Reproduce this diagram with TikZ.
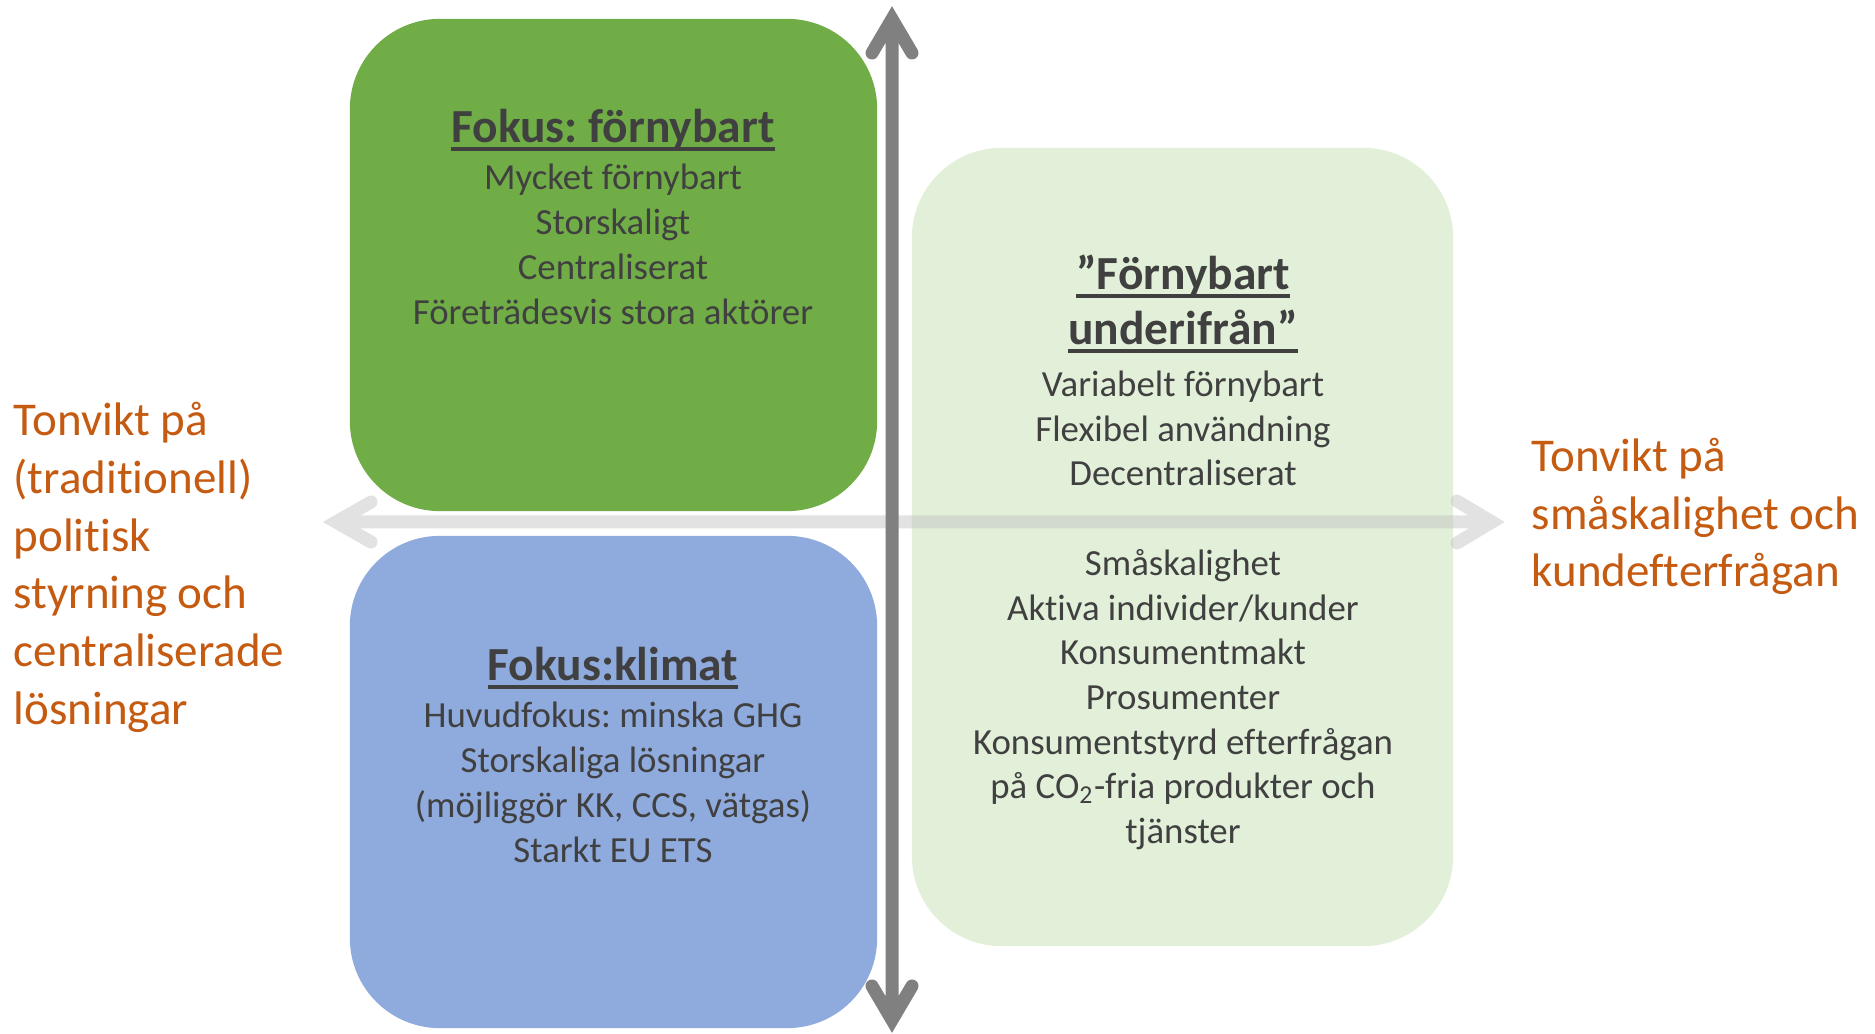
\documentclass[tikz,border=0pt]{standalone}
\usepackage{fontspec}
\setmainfont[Ligatures={NoCommon}]{Carlito}
\usetikzlibrary{calc}
\definecolor{gbox}{HTML}{70AD47}
\definecolor{bbox}{HTML}{8FAADC}
\definecolor{lbox}{HTML}{E2F0D9}
\definecolor{txt}{HTML}{404040}
\definecolor{org}{HTML}{C55A11}
\definecolor{vgray}{HTML}{808080}
\definecolor{hgray}{HTML}{BFBFBF}
\newlength\ulwd
\newcommand\ulttl[1]{\settowidth\ulwd{#1}\rlap{#1}\rule[-0.17em]{\ulwd}{0.065em}}
\frenchspacing
\begin{document}
\begin{tikzpicture}[x=0.01cm,y=-0.01cm,
  box/.style={rectangle, rounded corners=0.9cm, inner sep=0pt, draw=none},
  body/.style={anchor=base, inner sep=0pt, text=txt, font=\fontsize{10.47}{12.7}\selectfont},
  ttl/.style={anchor=base, inner sep=0pt, text=txt, font=\fontsize{13.5}{16}\selectfont\bfseries},
  side/.style={anchor=base west, inner sep=0pt, text=org, font=\fontsize{13.37}{16.4}\selectfont},
  vax/.style={draw=vgray, line width=0.13cm, line cap=round, line join=miter},
  hax/.style={draw=hgray, draw opacity=0.45, line width=0.13cm, line cap=round, line join=miter}]
\useasboundingbox (0,0) rectangle (1875,1034);
% boxes
\node[box, fill=gbox, minimum width=5.27cm, minimum height=4.92cm] (green) at (613.5,265) {};
\node[box, fill=bbox, minimum width=5.27cm, minimum height=4.92cm] (blue) at (613.5,782) {};
\node[box, fill=lbox, minimum width=5.41cm, minimum height=7.98cm] (light) at (1182.5,547) {};
% horizontal axis
\coordinate (hl) at (336,522);
\coordinate (hr) at (1492,522);
\draw[hax] ($(hl)+(35,-20)$) -- (hl) -- ($(hl)+(35,20)$)
           ($(hl)+(6,0)$) -- ($(hr)+(-6,0)$)
           ($(hr)+(-35,-21)$) -- (hr) -- ($(hr)+(-35,21)$);
% vertical axis
\coordinate (vt) at (892,19);
\coordinate (vb) at (892,1020);
\draw[vax] ($(vt)+(-20,34)$) -- (vt) -- ($(vt)+(20,34)$)
           ($(vt)+(0,6)$) -- ($(vb)+(0,-6)$)
           ($(vb)+(-20,-34)$) -- (vb) -- ($(vb)+(20,-34)$);
% green box text
\node[ttl] (gT) at (613,142.5) {\ulttl{Fokus: förnybart}};
\foreach \t/\y [count=\i] in {{Mycket förnybart}/189.5, Storskaligt/234.5, Centraliserat/279.5, {Företrädesvis stora aktörer}/324.5}
  \node[body] (g\i) at (613,\y) {\t};
% blue box text
\node[ttl] (bT) at (613,680.5) {\ulttl{Fokus:klimat}};
\foreach \t/\y [count=\i] in {{Huvudfokus: minska GHG}/727.5, {Storskaliga lösningar}/772.5, {(möjliggör KK, CCS, vätgas)}/817.5, {Starkt EU ETS}/862.5}
  \node[body] (b\i) at (613,\y) {\t};
% light green box text
\node[ttl] (lT1) at (1183,289.5) {\ulttl{”Förnybart}};
\node[ttl] (lT2) at (1183,344.5) {\ulttl{underifrån”}};
\foreach \t/\y [count=\i] in {{Variabelt förnybart}/396.5, {Flexibel användning}/441.5, Decentraliserat/485.5, Småskalighet/575.5, {Aktiva individer/kunder}/620.5, Konsumentmakt/664.5, Prosumenter/709.5, {Konsumentstyrd efterfrågan}/754.5, {på CO\textsubscript{2}-fria produkter och}/798.5, tjänster/843.5}
  \node[body] (l\i) at (1183,\y) {\t};
% side labels
\foreach \t/\y [count=\i] in {{Tonvikt på}/435.5, (traditionell)/493.5, politisk/551.5, {styrning och}/608.5, centraliserade/666.5, lösningar/724.5}
  \node[side] (L\i) at (13,\y) {\t};
\foreach \t/\y [count=\i] in {{Tonvikt på}/471.5, {småskalighet och}/529.5, kundefterfrågan/586.5}
  \node[side] (R\i) at (1531,\y) {\t};
\end{tikzpicture}
\end{document}
